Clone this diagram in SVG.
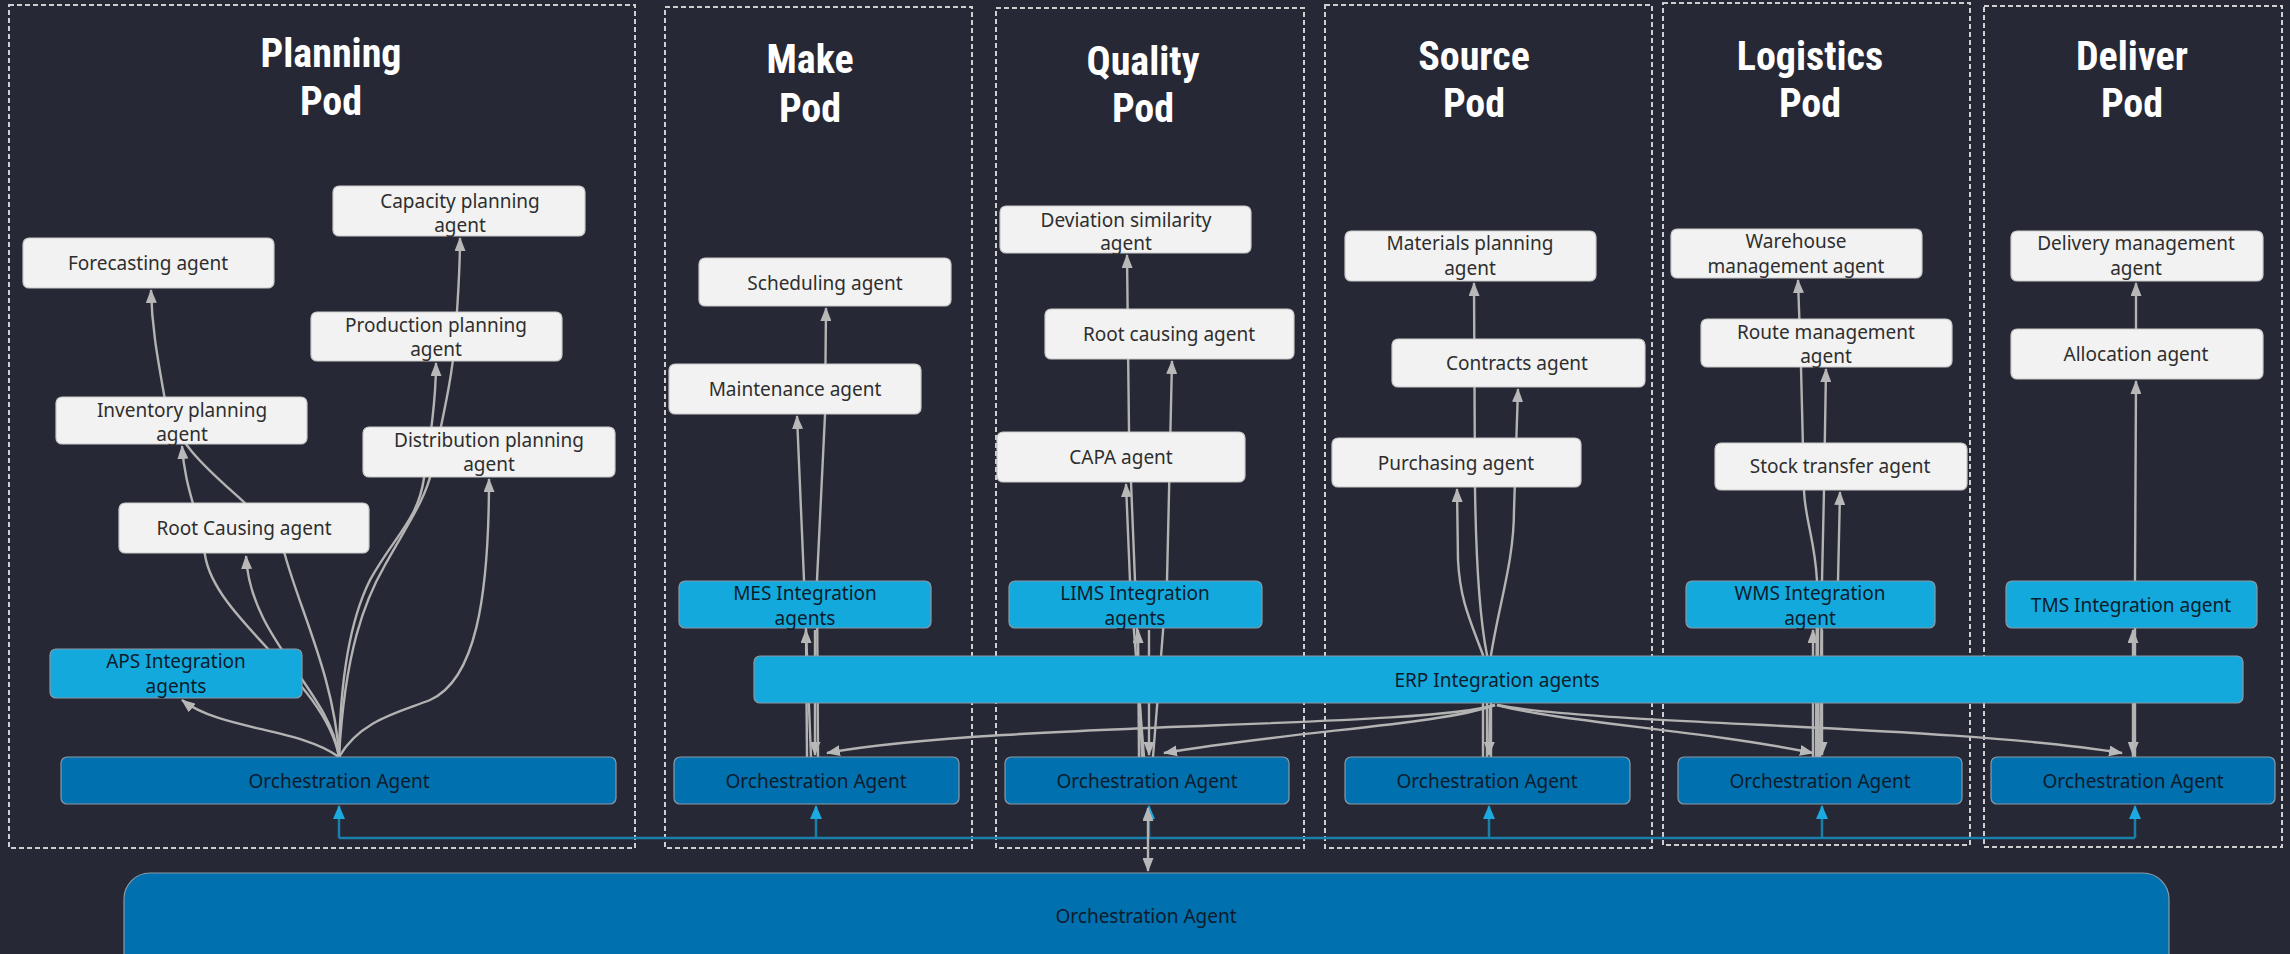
<svg xmlns="http://www.w3.org/2000/svg" width="2290" height="954" viewBox="0 0 2290 954">
<defs>
<style>
.bg{fill:#272835}
.frame{fill:none;stroke:#cfcfcf;stroke-width:2;stroke-dasharray:5 3}
.title{font-family:"Liberation Sans Narrow","Roboto Condensed","DejaVu Sans Condensed","Liberation Sans",sans-serif;font-weight:bold;font-size:40px;fill:#ffffff;text-anchor:middle}
.w{fill:#f2f2f2;stroke:#c9c9c9;stroke-width:1.2}
.c{fill:#13a9dc;stroke:#8a9aa6;stroke-width:1.2}
.o{fill:#0070ae;stroke:#8a9aa6;stroke-width:1.2}
.t{font-family:"Noto Sans","Open Sans",sans-serif;font-size:19px;text-anchor:middle;fill:#2e2e2e}
.td{font-family:"Noto Sans","Open Sans",sans-serif;font-size:19px;text-anchor:middle;fill:#0c1c2c}
.e{fill:none;stroke:#b3b3b3;stroke-width:2.4}
.bus{fill:none;stroke:#1b7fab;stroke-width:2.5}
</style>
<marker id="ag" viewBox="0 0 14 11" refX="13" refY="5.5" markerWidth="14" markerHeight="11" markerUnits="userSpaceOnUse" orient="auto-start-reverse"><path d="M0,0 L14,5.5 L0,11 z" fill="#b8b8b8"/></marker>
<marker id="ab" viewBox="0 0 14 12" refX="13" refY="6" markerWidth="14" markerHeight="12" markerUnits="userSpaceOnUse" orient="auto"><path d="M0,0 L14,6 L0,12 z" fill="#1ba9e0"/></marker>
</defs>
<rect class="bg" x="0" y="0" width="2290" height="954"/>

<g id="frames">
<rect class="frame" x="9" y="5" width="626" height="843"/>
<rect class="frame" x="665" y="7" width="307" height="841"/>
<rect class="frame" x="996" y="8" width="308" height="840"/>
<rect class="frame" x="1325" y="5" width="327" height="843"/>
<rect class="frame" x="1663" y="3" width="307" height="842"/>
<rect class="frame" x="1984" y="6" width="298" height="841"/>
</g>

<g id="titles">
<text class="title" x="331" y="67">Planning</text><text class="title" x="331" y="115">Pod</text>
<text class="title" x="810" y="73">Make</text><text class="title" x="810" y="122">Pod</text>
<text class="title" x="1143" y="75">Quality</text><text class="title" x="1143" y="122">Pod</text>
<text class="title" x="1474" y="70">Source</text><text class="title" x="1474" y="117">Pod</text>
<text class="title" x="1810" y="70">Logistics</text><text class="title" x="1810" y="117">Pod</text>
<text class="title" x="2132" y="70">Deliver</text><text class="title" x="2132" y="117">Pod</text>
</g>

<g id="connectors">
<path class="bus" d="M339,838 H2135"/>
<path class="bus" d="M339,838 V806" marker-end="url(#ab)"/>
<path class="bus" d="M816,838 V806" marker-end="url(#ab)"/>
<path class="bus" d="M1149,838 V806" marker-end="url(#ab)"/>
<path class="bus" d="M1489,838 V806" marker-end="url(#ab)"/>
<path class="bus" d="M1822,838 V806" marker-end="url(#ab)"/>
<path class="bus" d="M2135,838 V806" marker-end="url(#ab)"/>
<path class="e" d="M1148,808 V871" marker-start="url(#ag)" marker-end="url(#ag)"/>
<path class="e" d="M339,757 C300,728 220,730 182,700" marker-end="url(#ag)"/>
<path class="e" d="M339,757 C330,690 250,640 246,556" marker-end="url(#ag)"/>
<path class="e" d="M339,757 C325,680 215,620 205,555 C198,510 185,490 182,446" marker-end="url(#ag)"/>
<path class="e" d="M339,757 C335,680 300,610 285,555 C270,505 180,470 165,400 C158,360 152,330 151,290" marker-end="url(#ag)"/>
<path class="e" d="M339,757 C360,720 400,712 430,700 C475,680 489,600 489,479" marker-end="url(#ag)"/>
<path class="e" d="M339,757 C340,680 350,620 370,580 C395,535 418,520 424,478 C430,440 436,400 436,363" marker-end="url(#ag)"/>
<path class="e" d="M339,757 C345,650 365,600 385,565 C410,520 425,500 432,470 C442,420 452,380 455,340 C458,300 460,270 460,238" marker-end="url(#ag)"/>
<path class="e" d="M807,757 L806,630" marker-end="url(#ag)"/>
<path class="e" d="M815,630 L815,755" marker-end="url(#ag)"/>
<path class="e" d="M811,757 L804,580 L797,416" marker-end="url(#ag)"/>
<path class="e" d="M818,757 L817,580 L825,415 L826,308" marker-end="url(#ag)"/>
<path class="e" d="M1139,757 L1138,630" marker-end="url(#ag)"/>
<path class="e" d="M1149,630 L1149,755" marker-end="url(#ag)"/>
<path class="e" d="M1144,757 L1130,581 L1126,484" marker-end="url(#ag)"/>
<path class="e" d="M1153,757 L1167,581 L1172,361" marker-end="url(#ag)"/>
<path class="e" d="M1142,757 L1135,581 L1129,432 L1127,255" marker-end="url(#ag)"/>
<path class="e" d="M1483,757 L1483,655 C1470,620 1460,600 1458,560 L1457,489" marker-end="url(#ag)"/>
<path class="e" d="M1491,757 L1491,655 C1500,600 1514,560 1514,510 L1518,389" marker-end="url(#ag)"/>
<path class="e" d="M1487,757 L1487,655 C1480,620 1476,560 1475,488 L1474,283" marker-end="url(#ag)"/>
<path class="e" d="M1813,757 L1813,630" marker-end="url(#ag)"/>
<path class="e" d="M1822,630 L1822,755" marker-end="url(#ag)"/>
<path class="e" d="M1818,757 L1818,628 L1838,581 L1840,492" marker-end="url(#ag)"/>
<path class="e" d="M1820,757 L1822,581 L1824,490 L1826,369" marker-end="url(#ag)"/>
<path class="e" d="M1816,757 L1817,581 C1815,540 1805,520 1804,490 L1801,367 L1798,280" marker-end="url(#ag)"/>
<path class="e" d="M2133,757 L2133,630" marker-end="url(#ag)"/>
<path class="e" d="M2134,705 L2133,755" marker-end="url(#ag)"/>
<path class="e" d="M2135,757 L2135,581 L2136,381" marker-end="url(#ag)"/>
<path class="e" d="M2136,329 L2136,283" marker-end="url(#ag)"/>
<path class="e" d="M1495,705 C1420,728 1000,722 827,753" marker-end="url(#ag)"/>
<path class="e" d="M1495,705 C1440,725 1300,730 1164,753" marker-end="url(#ag)"/>
<path class="e" d="M1497,705 C1560,722 1700,730 1813,753" marker-end="url(#ag)"/>
<path class="e" d="M1497,705 C1600,725 1950,725 2122,753" marker-end="url(#ag)"/>
<path class="e" d="M1490,705 L1489,755" marker-end="url(#ag)"/>
</g>

<g id="planning-capacity"><rect class="w" x="333" y="186" width="252" height="50" rx="6"/><text class="t" x="460" y="208">Capacity planning</text><text class="t" x="460" y="232">agent</text></g>
<g id="planning-forecasting"><rect class="w" x="23" y="238" width="251" height="50" rx="6"/><text class="t" x="148" y="270">Forecasting agent</text></g>
<g id="planning-production"><rect class="w" x="311" y="312" width="251" height="49" rx="6"/><text class="t" x="436" y="332">Production planning</text><text class="t" x="436" y="356">agent</text></g>
<g id="planning-inventory"><rect class="w" x="56" y="397" width="251" height="47" rx="6"/><text class="t" x="182" y="417">Inventory planning</text><text class="t" x="182" y="441">agent</text></g>
<g id="planning-distribution"><rect class="w" x="363" y="427" width="252" height="50" rx="6"/><text class="t" x="489" y="447">Distribution planning</text><text class="t" x="489" y="471">agent</text></g>
<g id="planning-rootcausing"><rect class="w" x="119" y="503" width="250" height="50" rx="6"/><text class="t" x="244" y="535">Root Causing agent</text></g>
<g id="planning-aps"><rect class="c" x="50" y="649" width="252" height="49" rx="6"/><text class="td" x="176" y="668">APS Integration</text><text class="td" x="176" y="693">agents</text></g>
<g id="planning-orch"><rect class="o" x="61" y="757" width="555" height="47" rx="6"/><text class="td" x="339" y="788">Orchestration Agent</text></g>

<g id="make-scheduling"><rect class="w" x="699" y="258" width="252" height="48" rx="6"/><text class="t" x="825" y="290">Scheduling agent</text></g>
<g id="make-maintenance"><rect class="w" x="669" y="364" width="252" height="50" rx="6"/><text class="t" x="795" y="396">Maintenance agent</text></g>
<g id="make-mes"><rect class="c" x="679" y="581" width="252" height="47" rx="6"/><text class="td" x="805" y="600">MES Integration</text><text class="td" x="805" y="625">agents</text></g>
<g id="make-orch"><rect class="o" x="674" y="757" width="285" height="47" rx="6"/><text class="td" x="816" y="788">Orchestration Agent</text></g>

<g id="quality-deviation"><rect class="w" x="1000" y="206" width="251" height="47" rx="6"/><text class="t" x="1126" y="227">Deviation similarity</text><text class="t" x="1126" y="250">agent</text></g>
<g id="quality-rootcausing"><rect class="w" x="1045" y="309" width="249" height="50" rx="6"/><text class="t" x="1169" y="341">Root causing agent</text></g>
<g id="quality-capa"><rect class="w" x="997" y="432" width="248" height="50" rx="6"/><text class="t" x="1121" y="464">CAPA agent</text></g>
<g id="quality-lims"><rect class="c" x="1009" y="581" width="253" height="47" rx="6"/><text class="td" x="1135" y="600">LIMS Integration</text><text class="td" x="1135" y="625">agents</text></g>
<g id="quality-orch"><rect class="o" x="1005" y="757" width="284" height="47" rx="6"/><text class="td" x="1147" y="788">Orchestration Agent</text></g>

<g id="erp"><rect class="c" x="754" y="656" width="1489" height="47" rx="6"/><text class="td" x="1497" y="687">ERP Integration agents</text></g>

<g id="source-materials"><rect class="w" x="1345" y="231" width="251" height="50" rx="6"/><text class="t" x="1470" y="250">Materials planning</text><text class="t" x="1470" y="275">agent</text></g>
<g id="source-contracts"><rect class="w" x="1392" y="339" width="253" height="48" rx="6"/><text class="t" x="1517" y="370">Contracts agent</text></g>
<g id="source-purchasing"><rect class="w" x="1332" y="438" width="249" height="49" rx="6"/><text class="t" x="1456" y="470">Purchasing agent</text></g>
<g id="source-orch"><rect class="o" x="1345" y="757" width="285" height="47" rx="6"/><text class="td" x="1487" y="788">Orchestration Agent</text></g>

<g id="logistics-warehouse"><rect class="w" x="1671" y="229" width="251" height="49" rx="6"/><text class="t" x="1796" y="248">Warehouse</text><text class="t" x="1796" y="273">management agent</text></g>
<g id="logistics-route"><rect class="w" x="1701" y="319" width="251" height="48" rx="6"/><text class="t" x="1826" y="339">Route management</text><text class="t" x="1826" y="363">agent</text></g>
<g id="logistics-stock"><rect class="w" x="1715" y="443" width="252" height="47" rx="6"/><text class="t" x="1840" y="473">Stock transfer agent</text></g>
<g id="logistics-wms"><rect class="c" x="1686" y="581" width="249" height="47" rx="6"/><text class="td" x="1810" y="600">WMS Integration</text><text class="td" x="1810" y="625">agent</text></g>
<g id="logistics-orch"><rect class="o" x="1678" y="757" width="284" height="47" rx="6"/><text class="td" x="1820" y="788">Orchestration Agent</text></g>

<g id="deliver-delivery"><rect class="w" x="2011" y="231" width="252" height="50" rx="6"/><text class="t" x="2136" y="250">Delivery management</text><text class="t" x="2136" y="275">agent</text></g>
<g id="deliver-allocation"><rect class="w" x="2011" y="329" width="252" height="50" rx="6"/><text class="t" x="2136" y="361">Allocation agent</text></g>
<g id="deliver-tms"><rect class="c" x="2006" y="581" width="251" height="47" rx="6"/><text class="td" x="2131" y="612">TMS Integration agent</text></g>
<g id="deliver-orch"><rect class="o" x="1991" y="757" width="284" height="47" rx="6"/><text class="td" x="2133" y="788">Orchestration Agent</text></g>

<g id="global-orch"><rect class="o" x="124" y="873" width="2045" height="130" rx="26"/><text class="td" x="1146" y="923">Orchestration Agent</text></g>
</svg>
